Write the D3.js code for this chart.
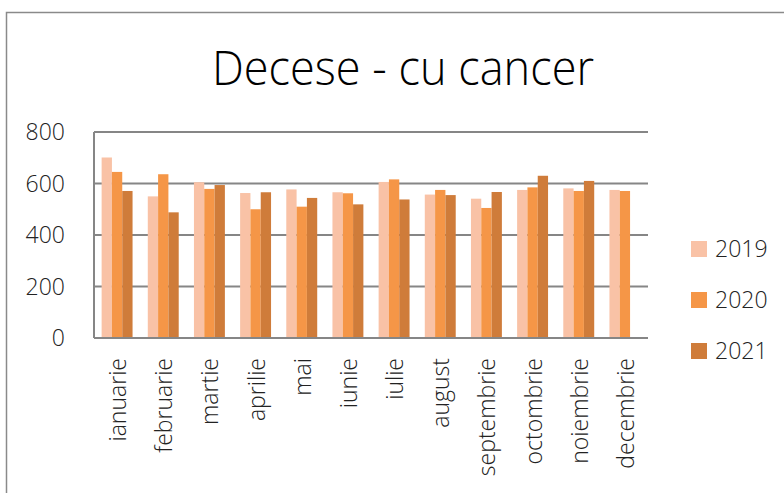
<!DOCTYPE html>
<html>
<head>
<meta charset="utf-8">
<script src="https://cdn.jsdelivr.net/npm/d3@7"></script>
<style>
  html, body { margin: 0; padding: 0; background: #fff; }
  svg { display: block; font-family: "Open Sans", sans-serif; font-weight: 300; }
</style>
</head>
<body>
<div id="chart"></div>
<script>
// Data
const months = ["ianuarie","februarie","martie","aprilie","mai","iunie","iulie","august","septembrie","octombrie","noiembrie","decembrie"];
const years = ["2019","2020","2021"];
const deaths2019 = [701, 550, 605, 563, 577, 566, 606, 557, 541, 575, 581, 575];
const deaths2020 = [645, 636, 579, 500, 510, 562, 616, 575, 505, 585, 571, 571];
const deaths2021 = [571, 488, 594, 566, 544, 519, 538, 555, 567, 630, 610, null];
const yTicks = [0, 200, 400, 600, 800];
const colors = ["#F9C2A6", "#F59647", "#CF7C3A"];

const W = 784, H = 493;
const plot = { left: 94, right: 648, top: 132, bottom: 338 };

const svg = d3.select("#chart").append("svg")
  .attr("width", W).attr("height", H);

// outer chart frame (runs off the right/bottom edges in the reference)
svg.append("rect")
  .attr("x", 6.5).attr("y", 12.5)
  .attr("width", W + 10).attr("height", H + 10)
  .attr("fill", "none").attr("stroke", "#8a8a8a").attr("stroke-width", 1.5);

// title
svg.append("text")
  .attr("x", 403).attr("y", 85)
  .attr("text-anchor", "middle")
  .attr("font-size", 48)
  .attr("textLength", 382)
  .attr("lengthAdjust", "spacingAndGlyphs")
  .attr("fill", "#000")
  .text("Decese - cu cancer");

const x = d3.scaleBand().domain(months).range([plot.left, plot.right]).paddingInner(0.33).paddingOuter(0.165);
const xs = d3.scaleBand().domain(years).range([0, x.bandwidth()]);
const y = d3.scaleLinear().domain([0, 800]).range([plot.bottom, plot.top]);

// gridlines
svg.append("g")
  .selectAll("line")
  .data(yTicks.filter(t => t > 0))
  .join("line")
  .attr("x1", plot.left).attr("x2", plot.right)
  .attr("y1", d => y(d)).attr("y2", d => y(d))
  .attr("stroke", "#868686").attr("stroke-width", 2);

// y axis labels
svg.append("g")
  .selectAll("text")
  .data(yTicks)
  .join("text")
  .attr("x", 65).attr("y", d => y(d))
  .attr("dy", "0.35em")
  .attr("text-anchor", "end")
  .attr("font-size", 23)
  .attr("fill", "#222")
  .text(d => d);

// bars
const series = [deaths2019, deaths2020, deaths2021];
series.forEach((vals, i) => {
  svg.append("g")
    .selectAll("rect")
    .data(months.map((m, j) => ({ m, v: vals[j] })).filter(d => d.v != null))
    .join("rect")
    .attr("x", d => x(d.m) + xs(years[i]))
    .attr("width", xs.bandwidth())
    .attr("y", d => y(d.v))
    .attr("height", d => y(0) - y(d.v))
    .attr("fill", colors[i]);
});

// axis lines
svg.append("line")
  .attr("x1", plot.left).attr("x2", plot.left)
  .attr("y1", plot.top).attr("y2", plot.bottom)
  .attr("stroke", "#868686").attr("stroke-width", 2);
svg.append("line")
  .attr("x1", plot.left).attr("x2", plot.right)
  .attr("y1", plot.bottom).attr("y2", plot.bottom)
  .attr("stroke", "#868686").attr("stroke-width", 2);

// x labels, rotated
svg.append("g")
  .selectAll("text")
  .data(months)
  .join("text")
  .attr("transform", d => `translate(${x(d) + x.bandwidth() / 2 + 1},358) rotate(-90)`)
  .attr("text-anchor", "end")
  .attr("dy", "0.35em")
  .attr("font-size", 23)
  .attr("fill", "#222")
  .text(d => d);

// legend
const legend = svg.append("g")
  .selectAll("g")
  .data(years)
  .join("g")
  .attr("transform", (d, i) => `translate(691,${241 + i * 51})`);
legend.append("rect")
  .attr("width", 16).attr("height", 16)
  .attr("fill", (d, i) => colors[i]);
legend.append("text")
  .attr("x", 24).attr("y", 8)
  .attr("dy", "0.35em")
  .attr("font-size", 23)
  .attr("fill", "#222")
  .text(d => d);
</script>
</body>
</html>
